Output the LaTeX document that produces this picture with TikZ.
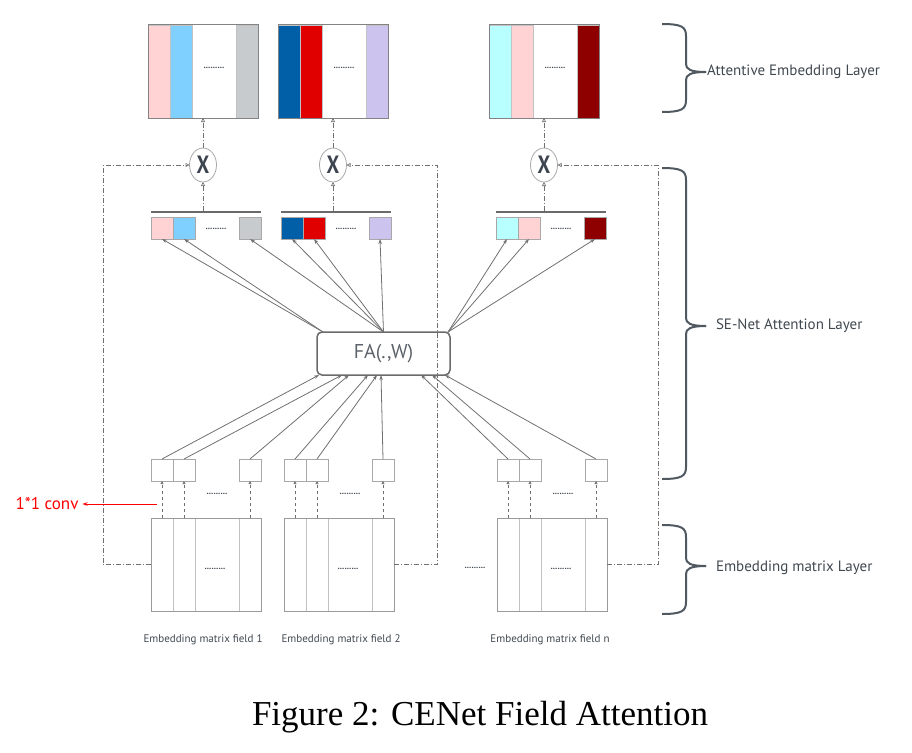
\documentclass[tikz,border=0pt]{standalone}
\usepackage{fontspec}
\usepackage{graphicx}
\setmainfont{Liberation Serif}
\setsansfont{PT Sans}
\usetikzlibrary{arrows.meta,shapes.geometric}

\definecolor{pinkc}{HTML}{FFD3D3}
\definecolor{bluec}{HTML}{80D0FF}
\definecolor{grayc}{HTML}{C8CBCE}
\definecolor{dbluec}{HTML}{005FA6}
\definecolor{redc}{HTML}{E00000}
\definecolor{lavc}{HTML}{CCC4EE}
\definecolor{cyanc}{HTML}{B8FFFF}
\definecolor{dredc}{HTML}{8E0000}
\definecolor{cellgray}{HTML}{A8A8A8}
\definecolor{framegray}{HTML}{9A9A9A}
\definecolor{bargray}{HTML}{6A6A6A}
\definecolor{linegray}{HTML}{707070}
\definecolor{textgray}{HTML}{404850}
\definecolor{xgray}{HTML}{3C4450}
\definecolor{bracegray}{HTML}{505860}

\begin{document}
\begin{tikzpicture}
  [x=1pt,y=-1pt,
   every node/.style={inner sep=0pt,outer sep=0pt},
   frame/.style={draw=framegray,line width=1pt,minimum width=110pt,minimum height=93pt},
   stripe/.style={draw=cellgray!70,line width=.6pt,minimum width=22pt,minimum height=93pt},
   cell/.style={draw=cellgray,line width=.8pt,minimum width=22pt,minimum height=22pt},
   bar/.style={fill=bargray,minimum width=110pt,minimum height=2.5pt},
   mult/.style={ellipse,draw=cellgray,line width=.8pt,minimum width=27pt,minimum height=34pt,
     text=xgray,font=\sffamily\bfseries\fontsize{25}{25}\selectfont},
   dots/.style={font=\sffamily\bfseries\fontsize{9}{9}\selectfont,text=textgray},
   fieldlabel/.style={font=\sffamily\fontsize{11}{11}\selectfont,text=textgray},
   conn/.style={draw=linegray,line width=.8pt,-{Stealth[length=5pt,width=3.5pt]}},
   conv/.style={draw=linegray,line width=.6pt,dashed,-{Triangle[open,length=3pt,width=3pt]}},
   loopline/.style={draw=linegray,line width=.6pt,dash pattern=on 5pt off 2pt on 1pt off 2pt,
     -{Triangle[open,length=4pt,width=4pt]}},
   curly/.style={draw=bracegray,line width=2pt},
   layer/.style={anchor=west,font=\sffamily\fontsize{15}{15}\selectfont,text=textgray}]
  \useasboundingbox (0,0) rectangle (912,752);

  % attentive embedding layer
  \foreach \n/\x/\ca/\cb/\cc in {1/148/pinkc/bluec/grayc,2/278/dbluec/redc/lavc,3/489/cyanc/pinkc/dredc}{
    \node[stripe,fill=\ca] (t\n-a) at (\x+11,71.5) {};
    \node[stripe,fill=\cb] (t\n-b) at (\x+33,71.5) {};
    \node[stripe,fill=\cc] (t\n-c) at (\x+99,71.5) {};
    \node[frame,draw=framegray!85!black] (t\n) at (\x+55,71.5) {};
    \node[dots] (t\n-d) at (\x+66,68) {.........};
    \node[mult] (x\n) at (\x+55,165) {\scalebox{0.8}[1]{X}};
  }

  % se-net weights
  \foreach \n/\x/\ca/\cb/\cc in {1/151/pinkc/bluec/grayc,2/281/dbluec/redc/lavc,3/496/cyanc/pinkc/dredc}{
    \node[bar] (b\n) at (\x+55,212) {};
    \node[cell,fill=\ca] (s\n-a) at (\x+11,228) {};
    \node[cell,fill=\cb] (s\n-b) at (\x+33,228) {};
    \node[cell,fill=\cc] (s\n-c) at (\x+99,228) {};
    \node[dots] (s\n-d) at (\x+65,229) {.........};
    \draw[loopline] (x\n.south |- b\n.north) -- (x\n.south);
    \draw[loopline] (x\n.north) -- (t\n.south);
  }

  \node[draw=bargray,line width=1.5pt,rounded corners=5pt,minimum width=133pt,minimum height=43pt,
    font=\sffamily\fontsize{20}{20}\selectfont,text=textgray!85] (fa) at (383.5,353.5) {FA(.,W)};

  % embedding matrix layer
  \foreach \n/\x/\f/\lx in {1/151/1/203,2/284/2/341,3/497/n/550}{
    \node[cell] (e\n-a) at (\x+11,470) {};
    \node[cell] (e\n-b) at (\x+33,470) {};
    \node[cell] (e\n-c) at (\x+99,470) {};
    \node[dots] (e\n-d) at (\x+66,494) {.........};
    \node[stripe] (m\n-a) at (\x+11,564.5) {};
    \node[stripe] (m\n-b) at (\x+33,564.5) {};
    \node[stripe] (m\n-c) at (\x+99,564.5) {};
    \node[frame] (m\n) at (\x+55,564.5) {};
    \node[dots] (m\n-d) at (\x+64,569) {.........};
    \node[fieldlabel] (f\n) at (\lx,640) {Embedding matrix field \f};
    \draw[conv] (m\n-a.north) -- (e\n-a.south);
    \draw[conv] (m\n-b.north) -- (e\n-b.south);
    \draw[conv] (m\n-c.north) -- (e\n-c.south);
  }
  \node[dots] (gap) at (475,568) {.........};

  \foreach \s in {s1-a,s1-b}
    \draw[conn] ([xshift=6pt]fa.north west) -- (\s.south);
  \foreach \s in {s1-c,s2-a,s2-b,s2-c}
    \draw[conn] (fa.north) -- (\s.south);
  \foreach \s in {s3-a,s3-b,s3-c}
    \draw[conn] ([xshift=-2pt]fa.north east) -- (\s.south);
  \foreach \s/\d in {e1-a/2,e1-b/25,e1-c/32,e2-a/51,e2-b/60,e2-c/64,e3-a/104,e3-b/115,e3-c/128}
    \draw[conn] (\s.north) -- ([xshift=\d pt]fa.south west);

  \draw[loopline] (m1.west) -- ++(-48,0) |- (x1.west);
  \draw[loopline] (m2.east) -- ++(43,0) |- (x2.east);
  \draw[loopline] (m3.east) -- ++(51,0) |- (x3.east);

  \node[font=\sffamily\fontsize{17}{17}\selectfont,text=red] (cv) at (47,504) {1*1 conv};
  \coordinate (cv-in) at (157,504);
  \draw[red,line width=.8pt,-{Stealth[length=5pt,width=3.5pt]}] (cv-in) -- ([xshift=4pt]cv.east);

  % braces
  \foreach \t/\m/\b in {24/72/112,168/326/479,525/566/614}{
    \draw[curly] (662,\t) .. controls (682,\t) and (686,\t+3) .. (686,\t+12) -- (686,\m-8)
      .. controls (686,\m-3) and (690,\m) .. (706,\m);
    \draw[curly] (706,\m) .. controls (690,\m) and (686,\m+3) .. (686,\m+8) -- (686,\b-12)
      .. controls (686,\b-3) and (682,\b) .. (662,\b);
  }
  \node[layer] (l1) at (707,72) {Attentive Embedding Layer};
  \node[layer] (l2) at (716,326) {SE-Net Attention Layer};
  \node[layer] (l3) at (716,568) {Embedding matrix Layer};

  \node[font=\fontsize{35}{40}\selectfont] (cap) at (480,717) {Figure 2: CENet Field Attention};
\end{tikzpicture}
\end{document}
